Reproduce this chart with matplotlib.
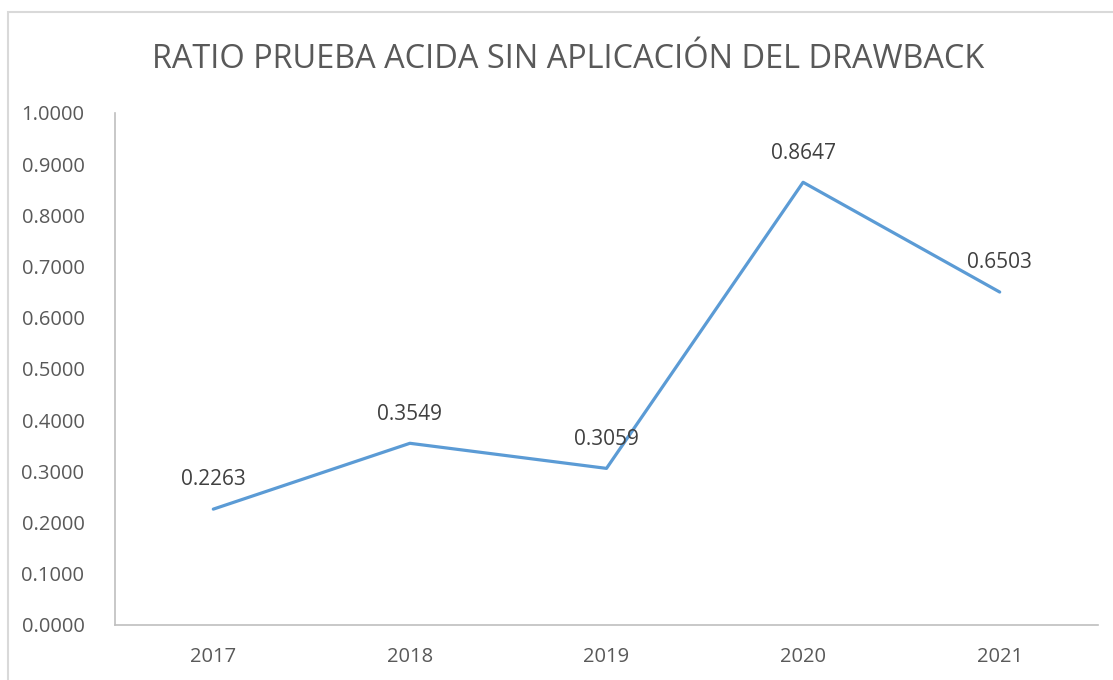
import matplotlib
matplotlib.use("Agg")
import matplotlib.pyplot as plt
from matplotlib.patches import Rectangle

years = ["2017", "2018", "2019", "2020", "2021"]
ratio = [0.2263, 0.3549, 0.3059, 0.8647, 0.6503]
y_ticks = [0.0, 0.1, 0.2, 0.3, 0.4, 0.5, 0.6, 0.7, 0.8, 0.9, 1.0]

plt.rcParams['font.family'] = ['Open Sans', 'DejaVu Sans']
text_color = '#595959'
label_color = '#404040'
axis_color = '#BFBFBF'

W, H = 1113, 680
fig = plt.figure(figsize=(W / 100, H / 100), dpi=100)

# chart area border (cut off on the right and bottom like the original)
fig.patches.append(Rectangle((8 / W, -0.01), 1.2, 1 - 12 / H + 0.01,
                             transform=fig.transFigure, fill=False,
                             edgecolor='#D9D9D9', linewidth=1.5))

ax = fig.add_axes([115 / W, 1 - 625 / H, (1098 - 115) / W, (625 - 113) / H])
x = list(range(len(years)))
ax.plot(x, ratio, color='#5B9BD5', linewidth=2.3, solid_capstyle='round')

for xi, v in zip(x, ratio):
    ax.annotate(f"{v:.4f}", (xi, v), xytext=(0, 21), textcoords='offset points',
                ha='center', va='center', fontsize=15, color=label_color)

ax.set_xlim(-0.5, len(years) - 0.5)
ax.set_ylim(0, 1.0)
ax.set_xticks(x)
ax.set_xticklabels(years)
ax.set_yticks(y_ticks)
ax.set_yticklabels([f"{t:.4f}" for t in y_ticks])
ax.tick_params(length=0, labelsize=14.5, colors=text_color)
ax.tick_params(axis='y', pad=22)
ax.tick_params(axis='x', pad=16)

for s in ['top', 'right']:
    ax.spines[s].set_visible(False)
for s in ['left', 'bottom']:
    ax.spines[s].set_color(axis_color)
    ax.spines[s].set_linewidth(1.2)

fig.text(568 / W, 1 - 60 / H, "RATIO PRUEBA ACIDA SIN APLICACIÓN DEL DRAWBACK",
         ha='center', va='center', fontsize=23.4, color=text_color)

fig.savefig("out.png", dpi=100)
